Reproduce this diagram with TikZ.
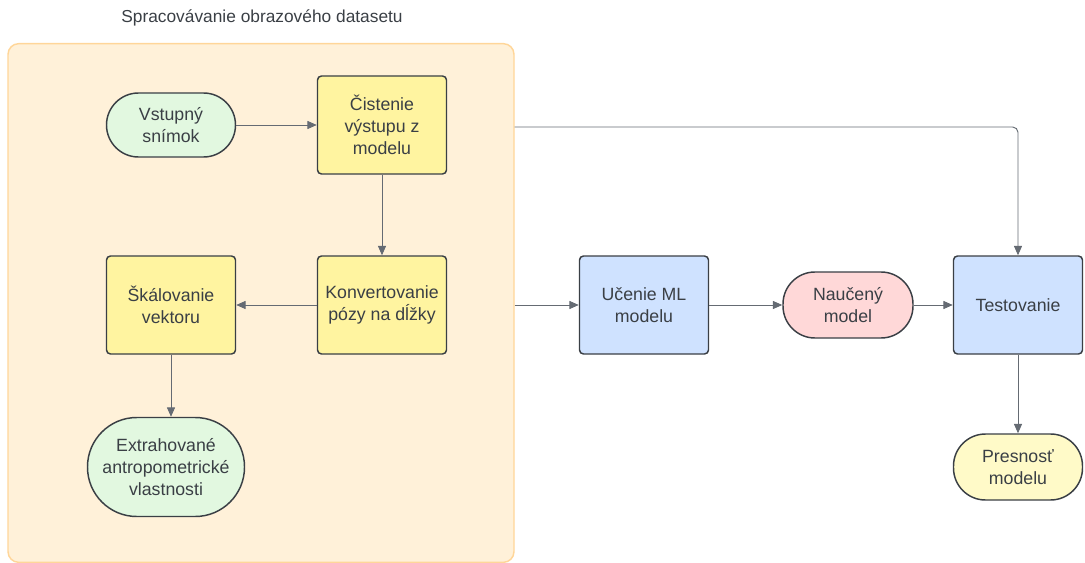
\documentclass[tikz,border=0pt]{standalone}
\usepackage{fontspec}
\setmainfont{Liberation Sans}
\usepackage{tikz}
\usetikzlibrary{arrows.meta,positioning}
\definecolor{boxline}{HTML}{3A3F45}
\definecolor{arrline}{HTML}{656B73}
\definecolor{groupfill}{HTML}{FFF1D9}
\definecolor{groupline}{HTML}{FFD699}
\definecolor{stepyellow}{HTML}{FFF4A0}
\definecolor{stepblue}{HTML}{CFE2FF}
\definecolor{termgreen}{HTML}{E2F8E0}
\definecolor{termpink}{HTML}{FFD8D8}
\definecolor{termyellow}{HTML}{FFFAC8}

\begin{document}
\begin{tikzpicture}[x=0.75pt,y=-0.75pt]
\tikzstyle{every node}+=[font=\fontsize{13.3}{16.5}\selectfont, text=boxline, align=center, inner sep=2pt]
\tikzstyle{procbox}=[draw=boxline, line width=1.1pt, rounded corners=3pt, minimum width=96.75pt, minimum height=73.5pt]
\tikzstyle{termbox}=[draw=boxline, line width=1.1pt, minimum width=96.75pt, minimum height=48pt, rounded corners=24pt]
\tikzstyle{flow}=[draw=arrline, line width=0.7pt, -{Triangle[length=7pt,width=6pt]}]
\useasboundingbox (0,0) rectangle (1085,563);

% skupina
\node[draw=groupline, fill=groupfill, line width=1.1pt, rounded corners=8pt, minimum width=379.5pt, minimum height=389pt] (group) at (261,303) {};
\node[font=\fontsize{13}{15}\selectfont] (grouptitle) at (262,18) {Spracovávanie obrazového datasetu};

% uzly
\node[termbox, fill=termgreen] (vstup) at (171,125) {Vstupný\\snímok};
\node[procbox, fill=stepyellow] (cistenie) at (382,125) {Čistenie\\výstupu z\\modelu};
\node[procbox, fill=stepyellow] (konvert) at (382,305) {Konvertovanie\\pózy na dĺžky};
\node[procbox, fill=stepyellow] (skal) at (171,305) {Škálovanie\\vektoru};
\node[termbox, fill=termgreen, minimum width=117.75pt, minimum height=74.25pt, rounded corners=37pt] (extrah) at (166,467) {Extrahované\\antropometrické\\vlastnosti};
\node[procbox, fill=stepblue] (ucenie) at (644,305) {Učenie ML\\modelu};
\node[termbox, fill=termpink, minimum width=97.5pt, minimum height=49.5pt] (naucemy) at (848,305) {Naučený\\model};
\node[procbox, fill=stepblue] (test) at (1018,305) {Testovanie};
\node[termbox, fill=termyellow, minimum height=49.5pt] (presnost) at (1018,467) {Presnosť\\modelu};

% spojenia
\draw[flow] (vstup) -- (cistenie);
\draw[flow] (cistenie) -- (konvert);
\draw[flow] (konvert) -- (skal);
\draw[flow] (skal) -- (skal |- extrah.north);
\draw[flow] (group.east |- ucenie) -- (ucenie);
\draw[flow, rounded corners=4pt] (group.east |- 0,127) -| (test);
\draw[flow] (ucenie) -- (naucemy);
\draw[flow] (naucemy) -- (test);
\draw[flow] (test) -- (presnost);
\end{tikzpicture}
\end{document}
